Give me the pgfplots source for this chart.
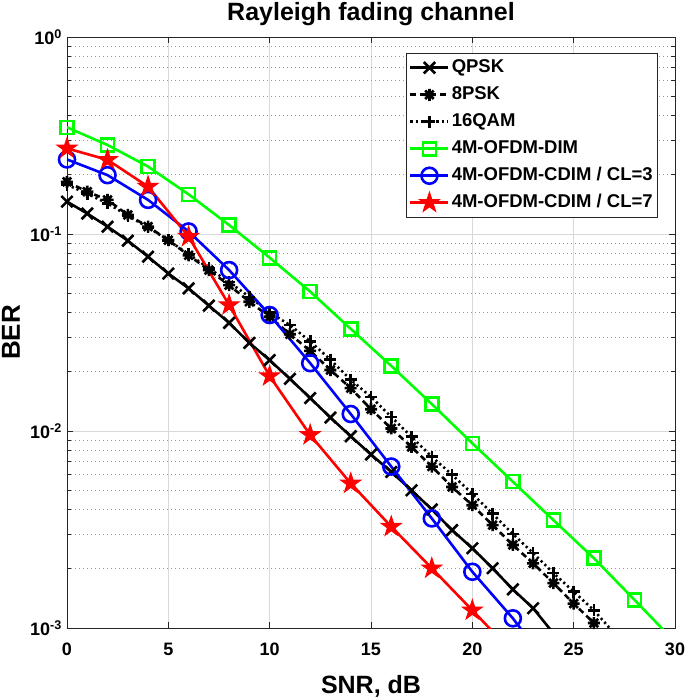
\documentclass[border=0pt]{standalone}
\usepackage{fontspec}
\setmainfont{Liberation Sans}
\usepackage{pgfplots}
\pgfplotsset{compat=1.18}

% MATLAB-like marks: filled pentagram and 8-arm asterisk
\pgfdeclareplotmark{pentagram}{%
  \pgfpathmoveto{\pgfqpoint{0pt}{\pgfplotmarksize}}%
  \pgfpathlineto{\pgfqpoint{-.2245\pgfplotmarksize}{.3090\pgfplotmarksize}}%
  \pgfpathlineto{\pgfqpoint{-.9511\pgfplotmarksize}{.3090\pgfplotmarksize}}%
  \pgfpathlineto{\pgfqpoint{-.3633\pgfplotmarksize}{-.1180\pgfplotmarksize}}%
  \pgfpathlineto{\pgfqpoint{-.5878\pgfplotmarksize}{-.8090\pgfplotmarksize}}%
  \pgfpathlineto{\pgfqpoint{0pt}{-.3820\pgfplotmarksize}}%
  \pgfpathlineto{\pgfqpoint{.5878\pgfplotmarksize}{-.8090\pgfplotmarksize}}%
  \pgfpathlineto{\pgfqpoint{.3633\pgfplotmarksize}{-.1180\pgfplotmarksize}}%
  \pgfpathlineto{\pgfqpoint{.9511\pgfplotmarksize}{.3090\pgfplotmarksize}}%
  \pgfpathlineto{\pgfqpoint{.2245\pgfplotmarksize}{.3090\pgfplotmarksize}}%
  \pgfpathclose
  \pgfusepathqfillstroke}
\pgfdeclareplotmark{ast8}{%
  \pgfpathmoveto{\pgfqpoint{-\pgfplotmarksize}{0pt}}\pgfpathlineto{\pgfqpoint{\pgfplotmarksize}{0pt}}%
  \pgfpathmoveto{\pgfqpoint{0pt}{-\pgfplotmarksize}}\pgfpathlineto{\pgfqpoint{0pt}{\pgfplotmarksize}}%
  \pgfpathmoveto{\pgfqpoint{-.7071\pgfplotmarksize}{-.7071\pgfplotmarksize}}\pgfpathlineto{\pgfqpoint{.7071\pgfplotmarksize}{.7071\pgfplotmarksize}}%
  \pgfpathmoveto{\pgfqpoint{-.7071\pgfplotmarksize}{.7071\pgfplotmarksize}}\pgfpathlineto{\pgfqpoint{.7071\pgfplotmarksize}{-.7071\pgfplotmarksize}}%
  \pgfusepathqstroke}

\begin{document}
\begin{tikzpicture}
\begin{axis}[
    name=ax,
    width=608pt, height=591pt, scale only axis,
    xmin=0, xmax=30, ymin=1e-3, ymax=1,
    ymode=log, log basis y=10,
    xtick={0,5,...,30},
    yticklabel={10\textsuperscript{\pgfmathparse{int(round(\tick))}\pgfmathresult}},
    tick align=inside, tick pos=both,
    major tick length=6pt, minor tick length=4pt,
    xmajorgrids, ymajorgrids, yminorgrids,
    major grid style={black!15, line width=0.8pt},
    minor grid style={black!40, line width=0.8pt, dash pattern=on 0.8pt off 3.2pt},
    axis line style={black!85, line width=0.8pt},
    tick style={black!85, line width=0.8pt},
    tick label style={font=\fontsize{18}{18}\selectfont\bfseries},
    /pgf/number format/assume math mode=true,
    xticklabel style={inner sep=0pt, yshift=-15pt},
    yticklabel style={inner sep=0pt, xshift=-5pt},
    title={Rayleigh fading channel},
    title style={at={(axis description cs:0.5,1)}, anchor=base, yshift=10.5pt, inner sep=0pt,
                 font=\fontsize{25}{25}\selectfont\bfseries},
    xlabel={SNR, dB},
    xlabel style={at={(axis description cs:0.5,0)}, anchor=north, inner sep=0pt,
                  yshift=-47pt, font=\fontsize{25}{25}\selectfont\bfseries},
    ylabel={BER},
    ylabel style={at={(axis description cs:0,0.5)}, anchor=south, inner sep=0pt,
                  yshift=47pt, font=\fontsize{26}{26}\selectfont\bfseries},
    legend cell align=left,
    legend image code/.code={%
        \draw[mark repeat=2,mark phase=2] plot coordinates {(0pt,0pt) (19pt,0pt) (38pt,0pt)};},
    legend style={at={(0.972,0.973)}, anchor=north east, draw=black!85,
                  line width=0.6pt, fill=white,
                  font=\fontsize{18.5}{18.5}\selectfont\bfseries,
                  inner xsep=3pt, inner ysep=4pt, row sep=6pt,
                  nodes={inner sep=2pt, text height=13pt, text depth=4pt}},
    every axis plot/.append style={line width=2.6pt},
]
% QPSK
\addplot[black, mark=x, mark size=8pt, mark options={solid}] coordinates {
 (0,0.146) (1,0.127) (2,0.109) (3,0.0925) (4,0.0767) (5,0.063) (6,0.053)
 (7,0.0433) (8,0.0354) (9,0.028) (10,0.0229) (11,0.0184) (12,0.0147)
 (13,0.0117) (14,0.0094) (15,0.0076) (16,0.0062) (17,0.0050) (18,0.0040)
 (19,0.00314) (20,0.00254) (21,0.00201) (22,0.00157) (23,0.00126) (24,0.00094)
};
\addlegendentry{QPSK}
% 8PSK
\addplot[black, dash pattern=on 6pt off 4pt, mark=ast8, mark size=6pt, mark options={solid}] coordinates {
 (0,0.184) (1,0.164) (2,0.149) (3,0.125) (4,0.109) (5,0.093) (6,0.078)
 (7,0.0656) (8,0.055) (9,0.0453) (10,0.038) (11,0.031) (12,0.0255)
 (13,0.0204) (14,0.0165) (15,0.0129) (16,0.0103) (17,0.0083) (18,0.0066)
 (19,0.0052) (20,0.0042) (21,0.00333) (22,0.00264) (23,0.00213) (24,0.00169)
 (25,0.00133) (26,0.00106)
};
\addlegendentry{8PSK}
% 16QAM
\addplot[black, dash pattern=on 2.2pt off 3pt, mark=+, mark size=6pt, mark options={solid}] coordinates {
 (0,0.178) (1,0.160) (2,0.143) (3,0.124) (4,0.108) (5,0.093) (6,0.079)
 (7,0.067) (8,0.057) (9,0.048) (10,0.040) (11,0.0345) (12,0.0285)
 (13,0.023) (14,0.0182) (15,0.0149) (16,0.0118) (17,0.00935) (18,0.0074)
 (19,0.0060) (20,0.0048) (21,0.0038) (22,0.0030) (23,0.0024) (24,0.0019)
 (25,0.00153) (26,0.00123) (27,0.00094)
};
\addlegendentry{16QAM}
% 4M-OFDM-DIM
\addplot[green, mark=square, mark size=6.5pt] coordinates {
 (0,0.348) (2,0.283) (4,0.220) (6,0.159) (8,0.111) (10,0.0758) (12,0.0510)
 (14,0.0330) (16,0.0214) (18,0.0137) (20,0.00866) (22,0.00553) (24,0.00353)
 (26,0.00226) (28,0.00139) (30,0.00085)
};
\addlegendentry{4M-OFDM-DIM}
% CL=3
\addplot[blue, mark=o, mark size=8pt] coordinates {
 (0,0.239) (2,0.199) (4,0.149) (6,0.103) (8,0.0656) (10,0.0388) (12,0.0221)
 (14,0.0122) (16,0.0066) (18,0.0036) (20,0.00193) (22,0.00112) (24,0.0006)
};
\addlegendentry{4M-OFDM-CDIM / CL=3}
% CL=7
\addplot[red, mark=pentagram, mark size=10.5pt, mark options={fill=red, line width=1pt}] coordinates {
 (0,0.272) (2,0.238) (4,0.174) (6,0.0969) (8,0.0436) (10,0.019) (12,0.00955)
 (14,0.00542) (16,0.00327) (18,0.00201) (20,0.00123) (22,0.00075)
};
\addlegendentry{4M-OFDM-CDIM / CL=7}
\end{axis}
\path (ax.south west) ++(-67pt,-70pt) rectangle ([shift={(10pt,37pt)}]ax.north east);
\end{tikzpicture}
\end{document}
